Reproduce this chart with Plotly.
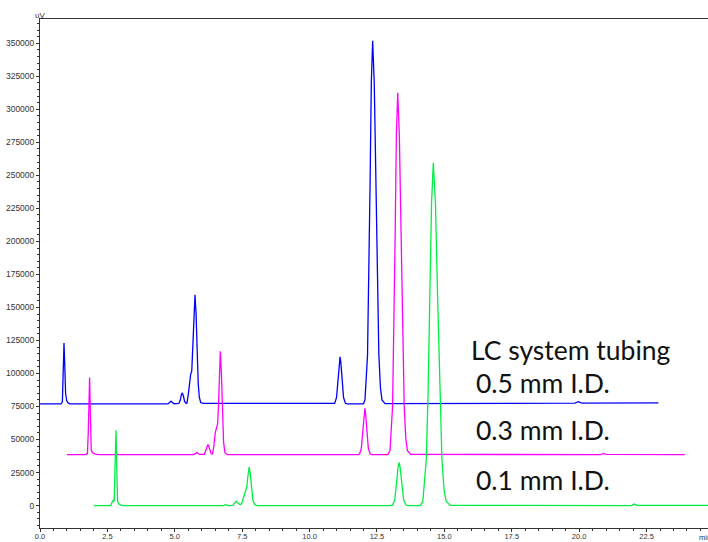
import plotly.graph_objects as go

# ---- data (time in min, signal in uV) ----
blue_t = [0.00, 0.78, 0.83, 0.86, 0.89, 0.92, 0.95, 0.99, 1.03, 1.10,
          4.75, 4.82, 4.86, 4.90, 4.97,
          5.15, 5.20, 5.24, 5.28, 5.32, 5.36, 5.41,
          5.45, 5.50, 5.55, 5.59, 5.63, 5.67, 5.71, 5.75, 5.79, 5.83, 5.87, 5.91, 5.96, 6.05,
          10.88, 10.93, 11.00, 11.03, 11.065, 11.10, 11.13, 11.16, 11.195, 11.23, 11.26, 11.33, 11.40,
          12.00, 12.055, 12.15, 12.197, 12.245, 12.29, 12.34, 12.40, 12.455, 12.51, 12.57, 12.63, 12.685, 12.80,
          19.85, 19.97, 20.10, 22.94]
blue_v = [77000, 77000, 78500, 100000, 123000, 105000, 85000, 79500, 78000, 77000,
          77000, 78300, 79000, 78300, 77100,
          77300, 79500, 83500, 85300, 83000, 79000, 77500,
          77400, 84000, 94000, 99500, 102000, 120000, 148000, 159500, 145000, 115000, 92000, 82000, 78000, 77300,
          77000, 77400, 81800, 88600, 98600, 108400, 112600, 108400, 98600, 88600, 81800, 77400, 77000,
          77000, 80000, 114000, 166000, 244000, 319500, 352000, 319500, 244000, 166000, 114000, 89000, 80000, 77200,
          77500, 78700, 77600, 77700]

magenta_t = [1.00, 1.70, 1.76, 1.79, 1.84, 1.87, 1.90, 1.95, 2.05, 2.20,
             5.70, 5.82, 5.92,
             6.10, 6.16, 6.20, 6.23, 6.26, 6.30, 6.35,
             6.40, 6.45, 6.50, 6.55, 6.59, 6.62, 6.65, 6.69, 6.73, 6.77, 6.81, 6.86, 6.95,
             11.80, 11.855, 11.92, 11.95, 11.985, 12.02, 12.05, 12.08, 12.115, 12.15, 12.18, 12.25, 12.32,
             12.90, 12.985, 13.08, 13.127, 13.175, 13.22, 13.27, 13.33, 13.39, 13.45, 13.51, 13.57, 13.63, 13.75,
             20.80, 20.90, 21.00, 23.92]
magenta_v = [38600, 38600, 39500, 55000, 97000, 65000, 42000, 40000, 38900, 38600,
             38600, 40100, 38700,
             38800, 42000, 45500, 46200, 45000, 41500, 39200,
             39000, 45000, 55000, 59500, 62000, 75000, 100000, 116900, 100000, 68000, 48000, 40000, 38600,
             38600, 39000, 43300, 50000, 59800, 69400, 73600, 69400, 59800, 50000, 43300, 39000, 38600,
             38600, 41600, 75600, 127600, 205000, 280300, 312600, 280300, 205000, 127600, 75600, 50700, 41600, 38700,
             38600, 39500, 38700, 38600]

green_t = [2.00, 2.62, 2.69, 2.72, 2.75, 2.78, 2.82, 2.85, 2.88, 2.93, 3.00, 3.10,
           6.80, 6.89, 6.98,
           7.15, 7.22, 7.28, 7.34, 7.42,
           7.48, 7.55, 7.62, 7.67, 7.71, 7.76, 7.80, 7.85, 7.90, 7.96, 8.05,
           13.00, 13.08, 13.16, 13.20, 13.24, 13.28, 13.32, 13.36, 13.405, 13.45, 13.49, 13.58, 13.65,
           14.10, 14.20, 14.33, 14.395, 14.46, 14.525, 14.59, 14.67, 14.75, 14.83, 14.91, 14.99, 15.07, 15.23,
           21.95, 22.04, 22.15, 24.78]
green_v = [0, 0, 3000, 4000, 3000, 20000, 57000, 25000, 3000, 1200, 300, 0,
           0, 700, 0,
           100, 2200, 3300, 2000, 600,
           1500, 6500, 9800, 14000, 22000, 29200, 24000, 12000, 4000, 800, 0,
           0, 360, 4400, 10600, 19800, 28700, 32600, 28700, 19800, 10600, 4400, 400, 0,
           0, 2900, 35000, 84300, 157500, 228900, 259500, 228900, 157500, 84300, 35000, 11400, 2900, 100,
           0, 1100, 100, 200]

series = [
    ("0.5 mm I.D.", blue_t, blue_v, "#0000FF"),
    ("0.3 mm I.D.", magenta_t, magenta_v, "#FF00FF"),
    ("0.1 mm I.D.", green_t, green_v, "#00EE44"),
]

label_lines = ["LC system tubing", "0.5 mm I.D.", "0.3 mm I.D.", "0.1 mm I.D."]
label_x = [15.9, 16.1, 16.1, 16.1]
label_y = [118000, 93000, 57000, 19000]

x_range = [0, 24.78]
y_range = [-17000, 368400]

fig = go.Figure()
for name, t, v, c in series:
    fig.add_trace(go.Scatter(x=t, y=v, mode="lines", name=name,
                             line=dict(color=c, width=1.3), showlegend=False))

for txt, lx, ly in zip(label_lines, label_x, label_y):
    fig.add_annotation(x=lx, y=ly, xref="x", yref="y", text=txt, showarrow=False,
                       xanchor="left", yanchor="middle",
                       font=dict(family="Lato", size=26.5, color="#111111"))

fig.add_annotation(x=0, y=1.0, xref="paper", yref="paper", text="uV", showarrow=False,
                   xanchor="center", yanchor="bottom", yshift=-3,
                   font=dict(family="Liberation Sans", size=8, color="#333333"))
fig.add_annotation(x=1.0, y=0, xref="paper", yref="paper", text="min", showarrow=False,
                   xanchor="left", yanchor="top", xshift=-11, yshift=-3,
                   font=dict(family="Liberation Sans", size=7.5, color="#333333"))

fig.update_layout(
    width=708, height=542,
    margin=dict(l=40, r=0, t=19, b=14, autoexpand=False),
    paper_bgcolor="white", plot_bgcolor="white",
    xaxis=dict(range=x_range, tickmode="linear", tick0=0, dtick=2.5, tickformat=".1f",
               automargin=False,
               showgrid=False, zeroline=False, showline=True, linecolor="#333333", linewidth=1,
               mirror=True, ticks="outside", ticklen=3, tickcolor="#333333",
               ticklabelstandoff=-2,
               minor=dict(dtick=0.5, ticks="outside", ticklen=2, tickcolor="#333333"),
               tickfont=dict(family="Liberation Sans", size=7.5, color="#333333")),
    yaxis=dict(range=y_range, tickmode="linear", tick0=0, dtick=25000, tickformat="d",
               automargin=False,
               showgrid=False, zeroline=False, showline=True, linecolor="#333333", linewidth=1,
               ticks="outside", ticklen=3, tickcolor="#333333",
               minor=dict(dtick=5000, ticks="outside", ticklen=2, tickcolor="#333333"),
               tickfont=dict(family="Liberation Sans", size=8.5, color="#333333")),
)

fig.write_html("out.html", config={"displayModeBar": False},
               post_script="document.body.style.margin='0';document.body.style.overflow='hidden';")
